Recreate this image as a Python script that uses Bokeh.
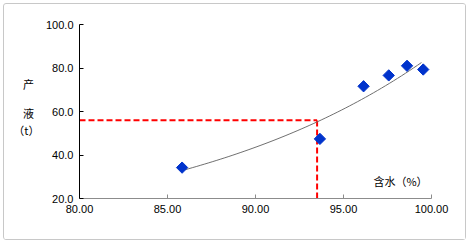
import numpy as np
from bokeh.plotting import figure
from bokeh.models import (FixedTicker, NumeralTickFormatter, Range1d, Label,
                          ColumnDataSource, LinearAxis)
from bokeh.embed import file_html
from bokeh.resources import INLINE

# data
water_cut = [85.83, 93.66, 96.14, 97.57, 98.61, 99.53]   # 含水 (%)
liquid = [34.2, 47.4, 71.6, 76.6, 81.0, 79.3]            # 产液 (t)
guide_x = 93.5
guide_y = 56.0
x_ticks = [80, 85, 90, 95, 100]
y_ticks = [20, 40, 60, 80, 100]
y_title_parts = ["产", "液", "（t）"]

# exponential trend line fitted to the points (like a spreadsheet trendline)
b, a = np.polyfit(water_cut, np.log(liquid), 1)
fit_x = np.linspace(min(water_cut) + 0.15, max(water_cut) - 0.1, 60)
fit_y = np.exp(a + b * fit_x)

p = figure(width=463, height=237, output_backend="svg", toolbar_location=None,
           x_range=Range1d(80, 100), y_range=Range1d(20, 100),
           min_border_left=75, min_border_right=36, min_border_top=20, min_border_bottom=43)
p.styles = {"margin-left": "3px", "margin-top": "3px",
            "border": "1px solid #c8c8c8", "border-radius": "3px"}
p.outline_line_color = None
p.xgrid.visible = False
p.ygrid.visible = False

FONT = "Liberation Sans"
CJK = "Noto Sans CJK SC"
for ax in (p.xaxis[0], p.yaxis[0]):
    ax.major_label_text_font = FONT
    ax.major_label_text_font_size = "11px"
    ax.major_label_text_color = "#000000"
    ax.minor_tick_line_color = None
    ax.major_tick_in = 4
    ax.major_tick_out = 0
p.xaxis.ticker = FixedTicker(ticks=x_ticks)
p.yaxis.ticker = FixedTicker(ticks=y_ticks)
p.xaxis.formatter = NumeralTickFormatter(format="0.00")
p.yaxis.formatter = NumeralTickFormatter(format="0.0")
p.xaxis.axis_line_color = "#8c8c8c"
p.xaxis.major_tick_line_color = "#8c8c8c"
p.yaxis.axis_line_color = "#000000"
p.yaxis.major_tick_line_color = "#000000"
p.xaxis.major_label_standoff = 6
p.yaxis.major_label_standoff = 6

# stacked y-axis title, placed as labels of an extra (lineless) left axis
title_pos = [72.7, 59.2, 51.3]
title_text = [s + "\u2002" if len(s) == 1 else s for s in y_title_parts]
title_axis = LinearAxis(ticker=FixedTicker(ticks=title_pos),
                        major_label_overrides={t: s for t, s in zip(title_pos, title_text)})
title_axis.axis_line_color = None
title_axis.major_tick_line_color = None
title_axis.minor_tick_line_color = None
title_axis.major_tick_in = 0
title_axis.major_tick_out = 0
title_axis.major_label_text_font = CJK
title_axis.major_label_text_font_size = "11px"
title_axis.major_label_text_color = "#000000"
title_axis.major_label_standoff = 3
p.add_layout(title_axis, "left")

# red dashed guide lines
p.line([80, guide_x], [guide_y, guide_y], line_color="#FF0000", line_width=2, line_dash="6 3")
p.line([guide_x, guide_x], [20, guide_y], line_color="#FF0000", line_width=2, line_dash="6 3")

# trend line
p.line(fit_x, fit_y, line_color="#707070", line_width=1)

# points
src = ColumnDataSource(dict(x=water_cut, y=liquid))
p.scatter("x", "y", source=src, marker="square", size=8, angle=np.pi / 4,
          fill_color="#0033CC", line_color="#0033CC")

p.add_layout(Label(x=96.7, y=28.2, text="含水（%）", text_font=CJK, text_font_size="11px",
                   text_color="#000000", text_baseline="middle", text_align="left"))

open("out.html", "w").write(file_html(p, INLINE))
